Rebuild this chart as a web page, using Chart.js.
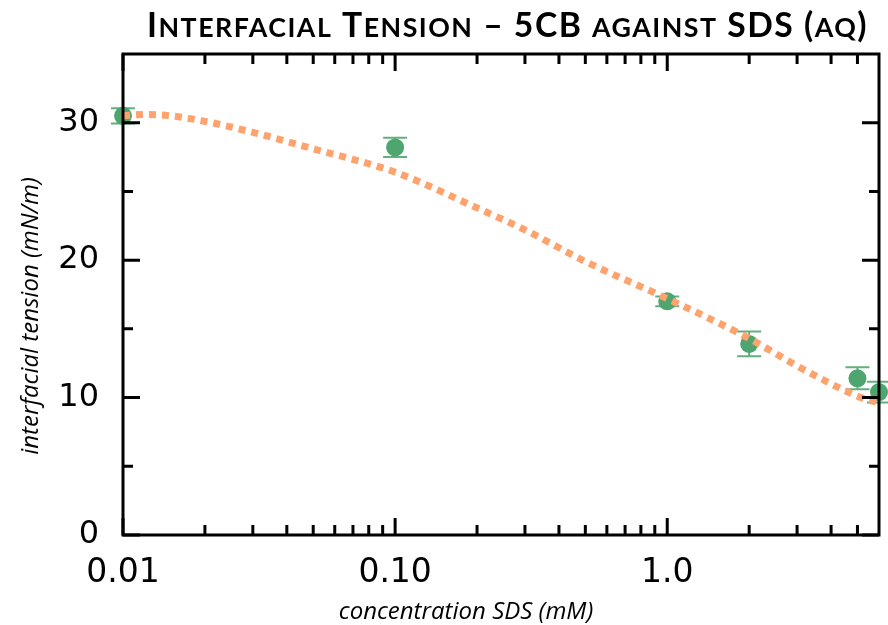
<!DOCTYPE html>
<html><head><meta charset="utf-8">
<script src="https://cdn.jsdelivr.net/npm/chart.js@4.4.1/dist/chart.umd.min.js"></script>
<style>html,body{margin:0;padding:0;background:#fff}#wrap{width:888px;height:625px;position:relative}</style>
</head><body><div id="wrap"><canvas id="c"></canvas></div>
<script>
const titleText = 'Interfacial Tension – 5CB against SDS (aq)';
const xTitle = 'concentration SDS (mM)';
const yTitle = 'interfacial tension (mN/m)';
const concentration = [0.01, 0.1, 1.0, 2.0, 5.0, 6.0];
const tension = [30.5, 28.2, 17.0, 13.9, 11.4, 10.4];
const tensionErr = [0.55, 0.7, 0.35, 0.9, 0.8, 0.75];
const fitX = [0.01, 0.012, 0.015, 0.02, 0.03, 0.05, 0.1, 0.2, 0.3, 0.5, 1, 2, 3, 4, 5, 6];
const fitY = [30.5, 30.6, 30.5, 30.1, 29.3, 28.1, 26.4, 23.8, 22.2, 19.9, 17.2, 14.3, 12.3, 11.0, 10.1, 9.6];
const xTickValues = [0.01, 0.1, 1];
const xTickLabels = ['0.01', '0.10', '1.0'];
const xMinorTicks = [0.02,0.03,0.04,0.05,0.06,0.07,0.08,0.09,0.2,0.3,0.4,0.5,0.6,0.7,0.8,0.9,2,3,4,5];
const yTickValues = [0, 10, 20, 30];
const yTickLabels = ['0', '10', '20', '30'];
const yMinorTicks = [5, 15, 25];

const pointColor = '#4ea66e';
const errColor = '#62b07f';
const fitColor = 'rgb(255,163,110)';

function drawSmallCaps(ctx, text, cx, baseline, targetWidth) {
  const big = 'bold 34px Lato', small = 'bold 27px Lato';
  const runs = [];
  for (const ch of text) {
    const isSmall = ch !== ch.toUpperCase();
    const last = runs[runs.length - 1];
    if (last && last.small === isSmall) last.t += ch; else runs.push({ small: isSmall, t: ch });
  }
  ctx.letterSpacing = '1.5px';
  let total = 0;
  runs.forEach(r => { ctx.font = r.small ? small : big; r.t = r.small ? r.t.toUpperCase() : r.t; r.w = ctx.measureText(r.t).width; total += r.w; });
  const sx = targetWidth / total;
  ctx.translate(cx - targetWidth / 2, baseline);
  ctx.scale(sx, 1);
  ctx.textAlign = 'left'; ctx.textBaseline = 'alphabetic';
  let x = 0;
  runs.forEach(r => { ctx.font = r.small ? small : big; ctx.fillText(r.t, x, 0); x += r.w; });
}

const decorPlugin = {
  id: 'decor',
  beforeDatasetsDraw(chart) {
    const ctx = chart.ctx, xs = chart.scales.x, ys = chart.scales.y;
    ctx.save();
    ctx.strokeStyle = errColor; ctx.lineWidth = 2;
    for (let i = 0; i < concentration.length; i++) {
      const px = xs.getPixelForValue(concentration[i]);
      const t = ys.getPixelForValue(tension[i] + tensionErr[i]);
      const b = ys.getPixelForValue(tension[i] - tensionErr[i]);
      ctx.beginPath();
      ctx.moveTo(px, t); ctx.lineTo(px, b);
      ctx.moveTo(px - 12, t); ctx.lineTo(px + 12, t);
      ctx.moveTo(px - 12, b); ctx.lineTo(px + 12, b);
      ctx.stroke();
    }
    ctx.restore();
  },
  afterDatasetsDraw(chart) {
    const ctx = chart.ctx, xs = chart.scales.x, ys = chart.scales.y, a = chart.chartArea;
    ctx.save();
    ctx.strokeStyle = '#000'; ctx.lineWidth = 3;
    ctx.strokeRect(a.left, a.top, a.right - a.left, a.bottom - a.top);
    ctx.beginPath();
    const xt = (v, len) => { const p = xs.getPixelForValue(v); ctx.moveTo(p, a.bottom); ctx.lineTo(p, a.bottom - len); ctx.moveTo(p, a.top); ctx.lineTo(p, a.top + len); };
    const yt = (v, len) => { const p = ys.getPixelForValue(v); ctx.moveTo(a.left, p); ctx.lineTo(a.left + len, p); ctx.moveTo(a.right, p); ctx.lineTo(a.right - len, p); };
    xTickValues.forEach(v => xt(v, 17));
    xMinorTicks.forEach(v => xt(v, 10));
    yTickValues.forEach(v => yt(v, 17));
    yMinorTicks.forEach(v => yt(v, 10));
    ctx.stroke();
    ctx.restore();
  },
  afterDraw(chart) {
    const ctx = chart.ctx;
    ctx.save();
    ctx.fillStyle = '#000';
    drawSmallCaps(ctx, titleText, 507.5, 37, 721);
    ctx.restore();

    ctx.save();
    ctx.fillStyle = '#000';
    ctx.font = 'italic 24px "Open Sans"';
    ctx.textAlign = 'center'; ctx.textBaseline = 'alphabetic';
    ctx.fillText(xTitle, 466, 619);
    ctx.translate(31, 316);
    ctx.rotate(-Math.PI / 2);
    ctx.textBaseline = 'middle';
    ctx.fillText(yTitle, 0, 0);
    ctx.restore();
  }
};

new Chart(document.getElementById('c'), {
  data: {
    datasets: [
      {
        type: 'line', label: 'fit', order: 0, clip: false,
        data: fitX.map((x, i) => ({ x, y: fitY[i] })),
        borderColor: fitColor, borderWidth: 7, borderDash: [7, 6], borderCapStyle: 'butt',
        pointRadius: 0, fill: false, cubicInterpolationMode: 'monotone'
      },
      {
        type: 'scatter', label: 'data', order: 1, clip: false,
        data: concentration.map((x, i) => ({ x, y: tension[i] })),
        backgroundColor: pointColor, borderColor: pointColor, borderWidth: 0, pointRadius: 9
      }
    ]
  },
  options: {
    responsive: true, maintainAspectRatio: false, animation: false,
    layout: { padding: { top: 54, right: 9, left: 0, bottom: 0 } },
    plugins: { legend: { display: false }, title: { display: false }, tooltip: { enabled: false } },
    scales: {
      x: {
        type: 'logarithmic', min: 0.01, max: 6,
        grid: { display: false }, border: { display: false },
        afterBuildTicks: s => { s.ticks = xTickValues.map(v => ({ value: v, major: true })); },
        afterFit: s => { s.height = 90; },
        ticks: { autoSkip: false, maxRotation: 0, padding: 11, color: '#000', font: { family: 'DejaVu Sans', size: 33 },
          callback: (v, i) => xTickLabels[i] }
      },
      y: {
        type: 'linear', min: 0, max: 35,
        grid: { display: false }, border: { display: false },
        afterBuildTicks: s => { s.ticks = yTickValues.map(v => ({ value: v })); },
        afterFit: s => { s.width = 123; },
        ticks: { padding: 16, color: '#000', font: { family: 'DejaVu Sans', size: 32 },
          callback: (v, i) => yTickLabels[i] }
      }
    }
  },
  plugins: [decorPlugin]
});
</script></body></html>
